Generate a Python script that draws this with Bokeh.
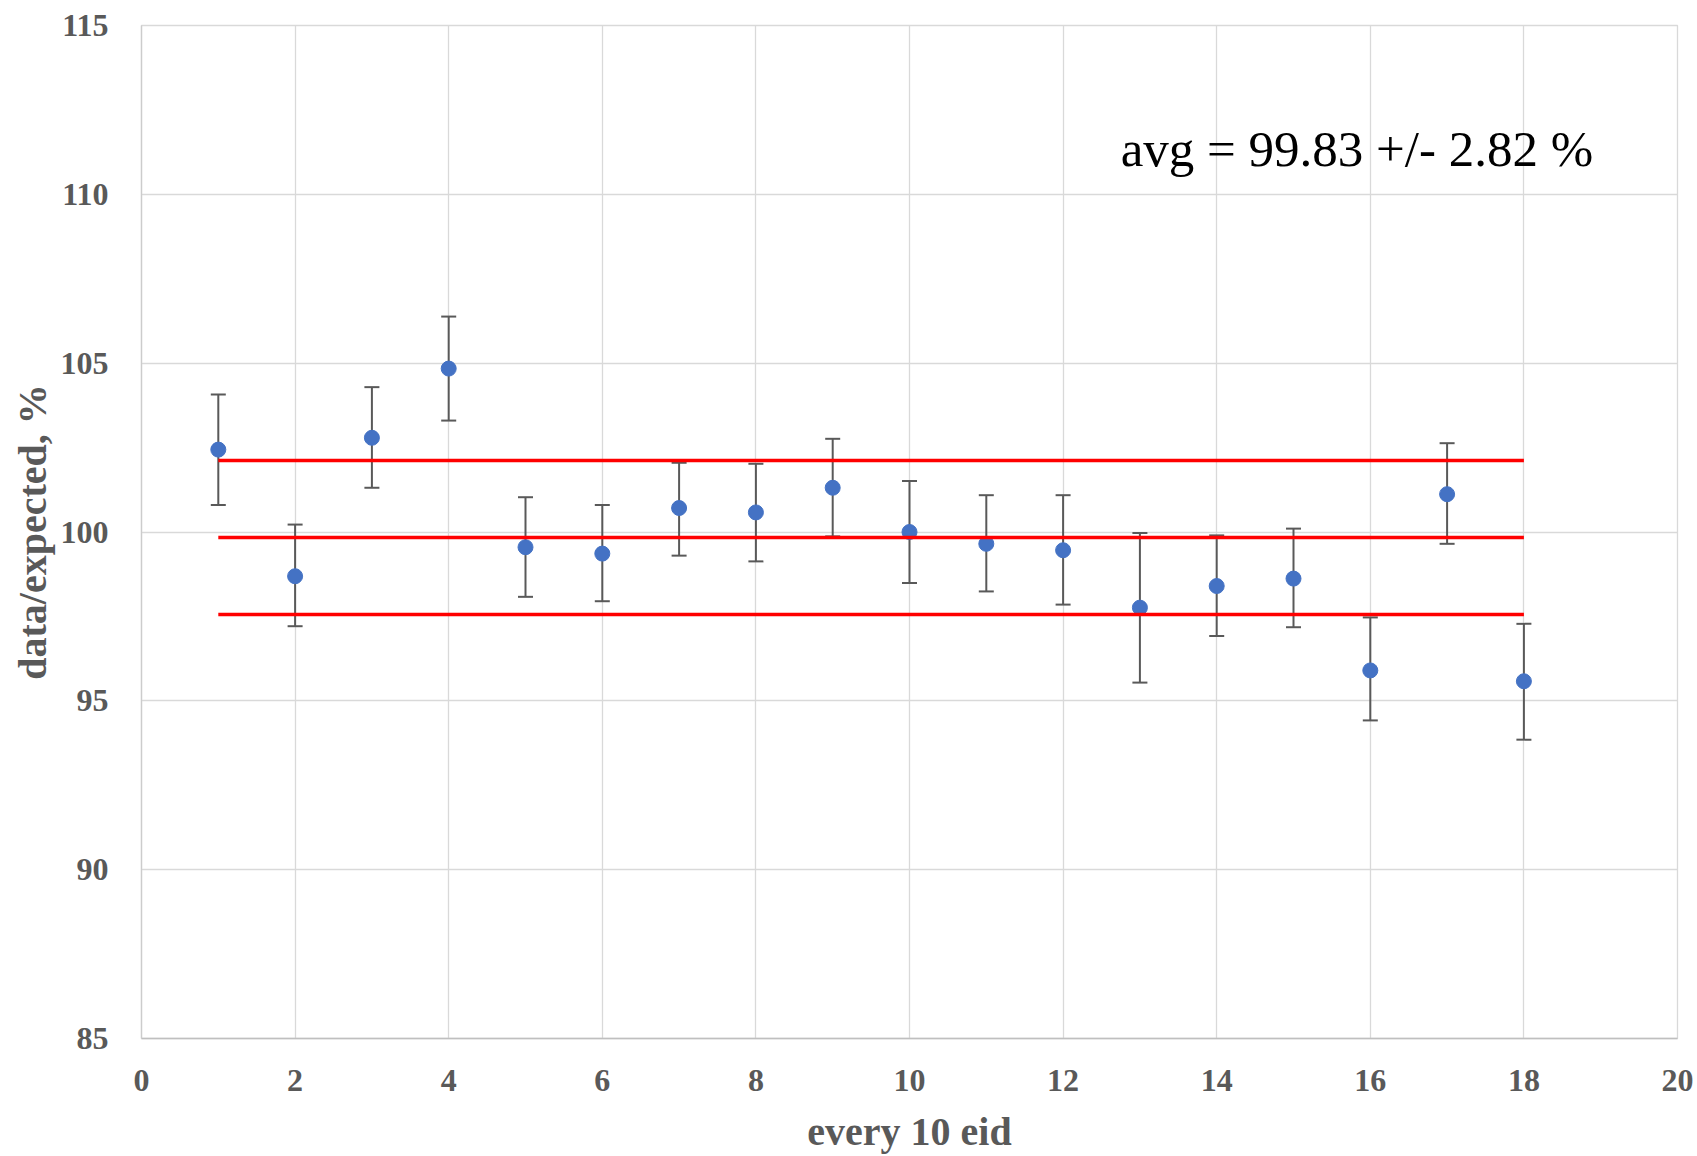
from bokeh.plotting import figure
from bokeh.models import ColumnDataSource, Whisker, TeeHead, FixedTicker, Range1d, Label
from bokeh.embed import file_html
from bokeh.resources import INLINE

# ---- data ----
eid_group = list(range(1, 19))
ratio = [102.44, 98.69, 102.79, 104.84, 99.55, 99.36, 100.71, 100.58, 101.31,
         100.00, 99.65, 99.46, 97.76, 98.40, 98.62, 95.90, 101.12, 95.58]
err_up = [104.07, 100.22, 104.29, 106.38, 101.03, 100.80, 102.05, 102.02, 102.76,
          101.51, 101.09, 101.09, 99.97, 99.90, 100.10, 97.47, 102.63, 97.28]
err_lo = [100.80, 97.21, 101.31, 103.30, 98.08, 97.95, 99.30, 99.13, 99.87,
          98.49, 98.24, 97.85, 95.54, 96.92, 97.18, 94.42, 99.65, 93.85]
band_x = [1, 18]
avg_line = [99.84, 99.84]
upper_line = [102.12, 102.12]
lower_line = [97.56, 97.56]
x_ticks = [0, 2, 4, 6, 8, 10, 12, 14, 16, 18, 20]
y_ticks = [85, 90, 95, 100, 105, 110, 115]
annotation = "avg = 99.83 +/- 2.82 %"

FONT = "Liberation Serif"
GRAY = "#595959"

p = figure(width=1697, height=1156, output_backend="svg", toolbar_location=None,
           x_range=Range1d(0, 20), y_range=Range1d(85, 115),
           min_border_left=141, min_border_right=20, min_border_top=25, min_border_bottom=117)
p.background_fill_color = "white"
p.outline_line_color = "#d9d9d9"
p.outline_line_width = 1.3

for ax, ticks in ((p.xaxis, x_ticks), (p.yaxis, y_ticks)):
    ax.ticker = FixedTicker(ticks=ticks)
    ax.major_tick_line_color = None
    ax.minor_tick_line_color = None
    ax.major_label_text_font = FONT
    ax.major_label_text_font_style = "bold"
    ax.major_label_text_font_size = "32px"
    ax.major_label_text_color = GRAY
    ax.axis_label_text_font = FONT
    ax.axis_label_text_font_style = "bold"
    ax.axis_label_text_font_size = "40px"
    ax.axis_label_text_color = GRAY
    ax.axis_label_text_line_height = 1.0

p.xaxis.axis_label = "every 10 eid"
p.yaxis.axis_label = "data/expected, %"
p.xaxis.axis_line_color = "#bfbfbf"
p.yaxis.axis_line_color = "#cccccc"
p.xaxis.axis_line_width = 1.5
p.yaxis.axis_line_width = 1.3
p.xaxis.major_label_standoff = 25
p.yaxis.major_label_standoff = 27
p.xaxis.axis_label_standoff = 15
p.yaxis.axis_label_standoff = 3

p.xgrid.ticker = FixedTicker(ticks=x_ticks)
p.ygrid.ticker = FixedTicker(ticks=y_ticks)
p.grid.grid_line_color = "#d9d9d9"
p.grid.grid_line_width = 1.3

src = ColumnDataSource(dict(x=eid_group, y=ratio, up=err_up, lo=err_lo))

w = Whisker(source=src, base="x", upper="up", lower="lo", dimension="height",
            line_color=GRAY, line_width=2,
            upper_head=TeeHead(size=15, line_color=GRAY, line_width=2),
            lower_head=TeeHead(size=15, line_color=GRAY, line_width=2))
p.add_layout(w)

p.scatter("x", "y", source=src, size=15, color="#4472C4", line_color="#4472C4")

for yy in (upper_line, avg_line, lower_line):
    p.line(band_x, yy, line_color="#FF0000", line_width=3.5)

p.add_layout(Label(x=12.75, y=111.35, text=annotation, text_font=FONT,
                   text_font_size="51px", text_color="black",
                   text_baseline="alphabetic", text_align="left"))

open("out.html", "w").write(file_html(p, INLINE))
